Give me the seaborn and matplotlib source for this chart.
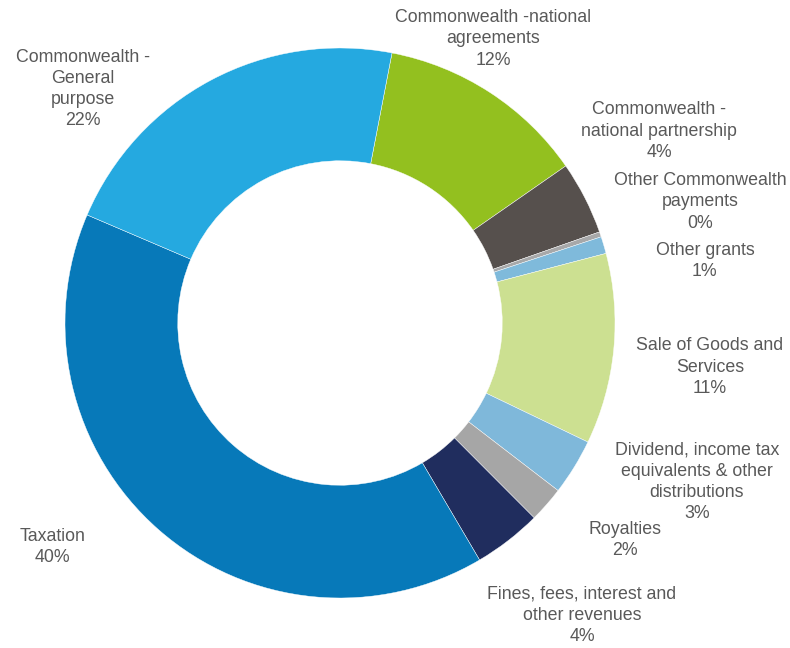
import matplotlib
matplotlib.use("Agg")
import matplotlib.pyplot as plt
import seaborn as sns

# Revenue sources, listed clockwise from the top of the ring
categories = [
    "Commonwealth -national\nagreements",
    "Commonwealth -\nnational partnership",
    "Other Commonwealth\npayments",
    "Other grants",
    "Sale of Goods and\nServices",
    "Dividend, income tax\nequivalents & other\ndistributions",
    "Royalties",
    "Fines, fees, interest and\nother revenues",
    "Taxation",
    "Commonwealth -\nGeneral\npurpose",
]
shares = [12.3, 4.3, 0.3, 1.0, 11.2, 3.3, 2.1, 4.0, 39.9, 21.6]

colors = [
    "#93C01F", "#56504D", "#A7A8A9", "#7FBADB", "#CCE091",
    "#7FB8DA", "#A6A6A6", "#202D5E", "#0779B9", "#25A9E0",
]

# Label anchor points, in units of the ring's outer radius
label_pos = [
    (0.556, 1.033), (1.160, 0.698), (1.309, 0.440), (1.327, 0.225),
    (1.345, -0.160), (1.298, -0.578), (1.036, -0.789), (0.880, -1.062),
    (-1.047, -0.815), (-0.935, 0.851),
]

sns.set_theme(style="white")
plt.rcParams["font.family"] = ["Liberation Sans", "DejaVu Sans"]

W, H, DPI = 790, 648, 100
cx, cy, R = 340, 323, 275  # ring centre and radius in pixels

fig = plt.figure(figsize=(W / DPI, H / DPI), dpi=DPI)
ax = fig.add_axes([0, 0, 1, 1])

total = sum(shares)
wedges, _ = ax.pie(
    shares,
    colors=sns.color_palette(colors),
    startangle=90 - 10.9,
    counterclock=False,
    radius=1.0,
    wedgeprops=dict(width=0.41, edgecolor="white", linewidth=0.3),
)

for name, val, (x, y) in zip(categories, shares, label_pos):
    pct = round(val / total * 100)
    ax.text(x, y, f"{name}\n{pct}%", ha="center", va="center",
            multialignment="center", fontsize=12.8, color="#595959",
            linespacing=1.32)

ax.set_xlim(-cx / R, (W - cx) / R)
ax.set_ylim((cy - H) / R, cy / R)
ax.set_aspect("auto")
ax.axis("off")

fig.savefig("out.png", dpi=DPI, facecolor="white")
